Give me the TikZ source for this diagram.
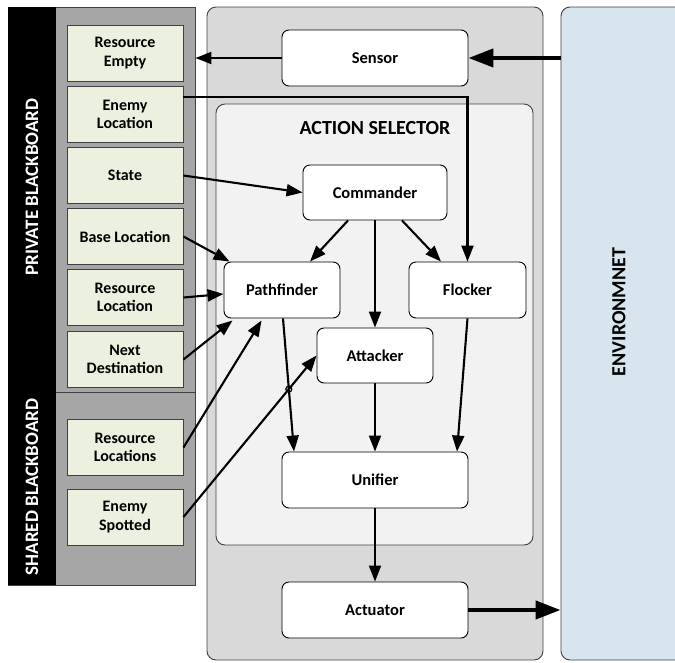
\documentclass[tikz,border=0pt]{standalone}
\usepackage{fontspec}
\setmainfont{Carlito}
\usetikzlibrary{arrows.meta,intersections}
\definecolor{panelgray}{HTML}{A6A6A6}
\definecolor{midgray}{HTML}{D9D9D9}
\definecolor{innergray}{HTML}{F2F2F2}
\definecolor{greenbox}{HTML}{EBF1DE}
\definecolor{envblue}{HTML}{D6E5EE}
\definecolor{edge}{HTML}{404040}
\tikzset{
  bbbox/.style={draw=edge, line width=0.9pt, fill=greenbox, minimum width=116pt, minimum height=56pt,
    align=center, font=\bfseries\fontsize{16}{18.5}\selectfont, inner sep=0pt},
  procbox/.style={draw=black, line width=0.9pt, fill=white, rounded corners=7pt, minimum height=56pt,
    align=center, font=\bfseries\fontsize{16.5}{18.5}\selectfont, inner sep=0pt},
  conn/.style={line width=2.1pt, -{Triangle[length=16pt,width=12pt]}},
  thickconn/.style={line width=4.2pt, -{Triangle[length=25pt,width=18pt]}},
  sidelabel/.style={rotate=90, font=\bfseries\fontsize{19}{21}\selectfont}
}
\begin{document}
\begin{tikzpicture}[x=1pt,y=-1pt]
\useasboundingbox (0,0) rectangle (675,662);
% left panels
\node[draw=edge, line width=0.9pt, fill=panelgray, minimum width=187pt, minimum height=385pt, inner sep=0pt] (priv) at (101.5,199.5) {};
\node[draw=edge, line width=0.9pt, fill=panelgray, minimum width=187pt, minimum height=193pt, inner sep=0pt] (shared) at (101.5,488.5) {};
\node[fill=black, minimum width=48pt, minimum height=385pt, inner sep=0pt] (privbar) at (32,199.5) {};
\node[fill=black, minimum width=48pt, minimum height=193pt, inner sep=0pt] (sharedbar) at (32,488.5) {};
\node[sidelabel, text=white] (privlabel) at (32,187) {PRIVATE BLACKBOARD};
\node[sidelabel, text=white] (sharedlabel) at (32,487) {SHARED BLACKBOARD};
% green boxes
\node[bbbox] (resEmpty) at (125,53) {Resource\\Empty};
\node[bbbox] (enemyLoc) at (125,114.5) {Enemy\\Location};
\node[bbbox] (state) at (125,175.5) {State};
\node[bbbox] (baseLoc) at (125,236.5) {Base Location};
\node[bbbox] (resLoc) at (125,297.5) {Resource\\Location};
\node[bbbox] (nextDest) at (125,359.5) {Next\\Destination};
\node[bbbox] (resLocs) at (125,447.5) {Resource\\Locations};
\node[bbbox] (enemySp) at (125,517) {Enemy\\Spotted};
% middle panel
\node[draw=edge, line width=0.9pt, fill=midgray, rounded corners=9pt, minimum width=336pt, minimum height=653pt, inner sep=0pt] (agent) at (375,333.5) {};
\node[draw=edge, line width=0.9pt, fill=innergray, rounded corners=9pt, minimum width=317pt, minimum height=441pt, inner sep=0pt] (selector) at (374.5,324.5) {};
\node[font=\bfseries\fontsize{20}{22}\selectfont] (seltitle) at (375,128) {ACTION SELECTOR};
% environment
\begin{scope}
\clip (0,0) rectangle (675,662);
\node[draw=edge, line width=0.9pt, fill=envblue, rounded corners=9pt, minimum width=140pt, minimum height=653pt, inner sep=0pt] (env) at (631,333.5) {};
\end{scope}
\node[sidelabel, font=\bfseries\fontsize{20}{22}\selectfont] (envlabel) at (619,312) {ENVIRONMNET};
% process boxes
\node[procbox, minimum width=186pt] (sensor) at (375,58) {Sensor};
\node[procbox, minimum width=144pt, minimum height=55pt] (commander) at (375,192.5) {Commander};
\node[procbox, minimum width=116pt] (pathfinder) at (282,290) {Pathfinder};
\node[procbox, minimum width=117pt] (flocker) at (467.5,290) {Flocker};
\node[procbox, minimum width=116pt, minimum height=55pt] (attacker) at (375,355.5) {Attacker};
\node[procbox, minimum width=186pt] (unifier) at (375,480) {Unifier};
\node[procbox, minimum width=186pt] (actuator) at (375,610) {Actuator};
% connectors
\draw[conn] (sensor.west) -- (sensor.west -| priv.east);
\draw[thickconn] (sensor.east -| env.west) -- (sensor.east);
\coordinate (elstart) at ([yshift=17.5pt]enemyLoc.east);
\draw[conn] (elstart) -- (elstart -| flocker.north) -- (flocker.north);
\draw[conn] (state.east) -- (commander.west);
\draw[conn] (baseLoc.east) -- ([xshift=6pt]pathfinder.north west);
\draw[conn] (resLoc.east) -- ([yshift=-4pt]pathfinder.west);
\draw[conn] (nextDest.east) -- ([xshift=9pt,yshift=-2pt]pathfinder.south west);
\draw[conn] (resLocs.east) -- ([xshift=38pt,yshift=-2pt]pathfinder.south west);
\draw[conn, name path=esp] (enemySp.east) -- (attacker.west);
\draw[conn] ([xshift=-27pt]commander.south) -- ([xshift=28pt]pathfinder.north);
\draw[conn] (commander.south) -- (attacker.north);
\draw[conn] ([xshift=27pt]commander.south) -- ([xshift=-26.5pt]flocker.north);
\draw[conn, name path=pfu] ([xshift=1pt]pathfinder.south) -- ([xshift=-81pt]unifier.north);
\draw[conn] (attacker.south) -- (unifier.north);
\draw[conn] (flocker.south) -- ([xshift=82pt]unifier.north);
\draw[conn] (unifier.south) -- (actuator.north);
\draw[thickconn] (actuator.east) -- (actuator.east -| env.west);
\draw[name intersections={of=esp and pfu, by=hop}, line width=1.2pt] (hop) circle[radius=3pt];
\end{tikzpicture}
\end{document}
